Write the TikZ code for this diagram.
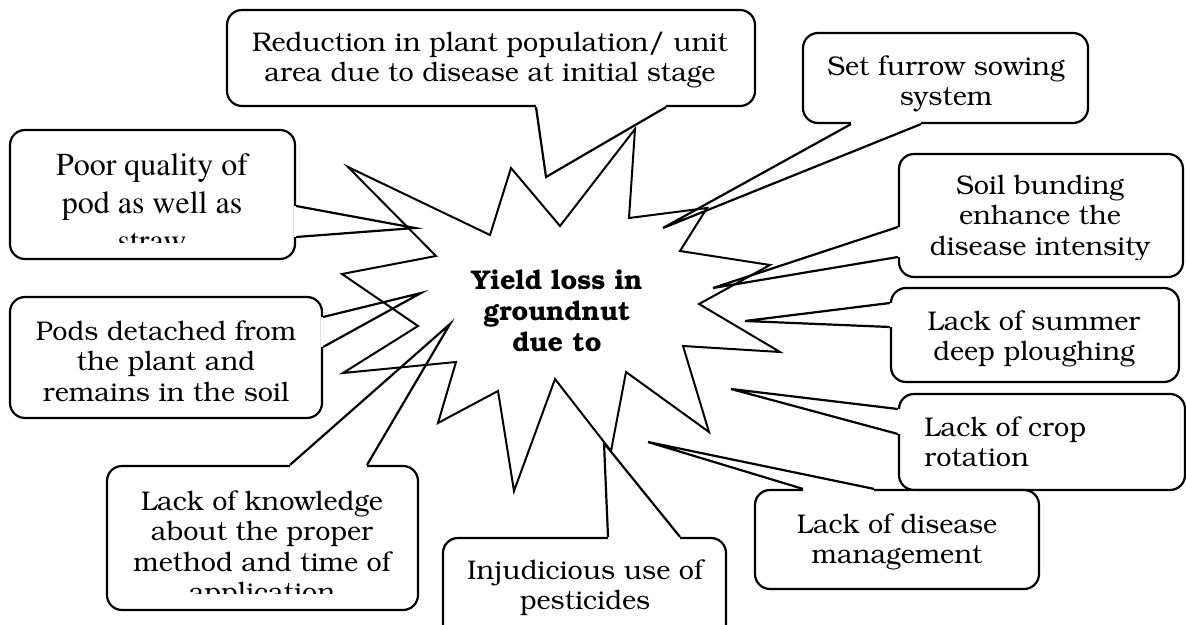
\documentclass[tikz,border=0pt]{standalone}
\usepackage[T1]{fontenc}
\usepackage{bookman}

\begin{document}
\begin{tikzpicture}
[
    x=0.5pt, y=-0.5pt,
    every node/.style={inner sep=0pt, align=center, font=\fontsize{13.5}{15.25}\selectfont},
    box/.style={draw, fill=white, line width=1.1pt, rounded corners=7.5pt},
    txt/.style={anchor=north},
    gap/.style={white, line width=2.6pt},
    tail/.style={line width=1.1pt},
]
\clip (0,0) rectangle (1186,625);
\node [box, minimum width=264pt, minimum height=48pt] (red) at (491,58) {};
\node [txt] (redText) at (490,32)
{Reduction in plant population/ unit\\area due to disease at initial stage};
\coordinate (redTip) at (546,177);
\draw [gap] (536,0 |- red.south) -- (666,0 |- red.south);
\draw [tail] (536,0 |- red.south) -- (redTip) -- (666,0 |- red.south);

\node [box, minimum width=142.5pt, minimum height=45pt] (set) at (945.5,78) {};
\node [txt] (setText) at (946,55) {Set furrow sowing\\system};
\coordinate (setTip) at (663,228);
\draw [gap] (851,0 |- set.south) -- (921,0 |- set.south);
\draw [tail] (851,0 |- set.south) -- (setTip) -- (921,0 |- set.south);

\node [box, minimum width=142pt, minimum height=61.5pt] (soil) at (1041,215.5) {};
\begin{scope}
\clip (899,154) rectangle (1183,260);
\node [txt] (soilText) at (1040,175) {Soil bunding\\enhance the\\disease intensity};
\end{scope}
\coordinate (soilTip) at (713,288);
\draw [gap] (soil.west |- 0,227) -- (soil.west |- 0,257);
\draw [tail] (soil.west |- 0,227) -- (soilTip) -- (soil.west |- 0,257);

\node [box, minimum width=144pt, minimum height=47pt] (summer) at (1035,335) {};
\node [txt] (summerText) at (1034,310) {Lack of summer\\deep ploughing};
\coordinate (summerTip) at (745,321);
\draw [gap] (summer.west |- 0,303) -- (summer.west |- 0,327);
\draw [tail] (summer.west |- 0,303) -- (summerTip) -- (summer.west |- 0,327);

\node [box, minimum width=143pt, minimum height=48pt] (crop) at (1042,442) {};
\node [txt, anchor=north west, align=left] (cropText) at (924,416) {Lack of crop\\rotation};
\coordinate (cropTip) at (731,389);
\draw [gap] (crop.west |- 0,409) -- (crop.west |- 0,434);
\draw [tail] (crop.west |- 0,409) -- (cropTip) -- (crop.west |- 0,434);

\node [box, minimum width=142pt, minimum height=49.5pt] (disease) at (897,539.5) {};
\node [txt] (diseaseText) at (897,513) {Lack of disease\\management};
\coordinate (diseaseTip) at (648,442);
\draw [gap] (803,0 |- disease.north) -- (874,0 |- disease.north);
\draw [tail] (803,0 |- disease.north) -- (diseaseTip) -- (874,0 |- disease.north);

\node [box, minimum width=141.5pt, minimum height=61pt] (inj) at (584.5,599) {};
\node [txt] (injText) at (585,559) {Injudicious use of\\pesticides};
\coordinate (injTip) at (604,443);
\draw [gap] (608,0 |- inj.north) -- (680,0 |- inj.north);
\draw [tail] (608,0 |- inj.north) -- (injTip) -- (680,0 |- inj.north);

\node [box, minimum width=155.5pt, minimum height=72pt] (know) at (262.5,538) {};
\begin{scope}
\clip (107,466) rectangle (418,593);
\node [txt] (knowText) at (262,490)
{Lack of knowledge\\about the proper\\method and time of\\application};
\end{scope}
\coordinate (knowTip) at (450,324);
\draw [gap] (290,0 |- know.north) -- (367,0 |- know.north);
\draw [tail] (290,0 |- know.north) -- (knowTip) -- (367,0 |- know.north);

\node [box, minimum width=156pt, minimum height=60.5pt] (pods) at (166,357.5) {};
\node [txt] (podsText) at (166,320) {Pods detached from\\the plant and\\remains in the soil};
\coordinate (podsTip) at (421,293);
\draw [gap] (pods.east |- 0,317) -- (pods.east |- 0,347);
\draw [tail] (pods.east |- 0,317) -- (podsTip) -- (pods.east |- 0,347);

\node [box, minimum width=142.5pt, minimum height=64.5pt] (poor) at (152.5,194.5) {};
\begin{scope}
\clip (10,130) rectangle (295,243);
\node [txt, font=\fontfamily{ptm}\fontsize{16}{19}\selectfont] (poorText) at (152,153)
{Poor quality of\\pod as well as\\straw};
\end{scope}
\coordinate (poorTip) at (415,228);
\draw [gap] (poor.east |- 0,206) -- (poor.east |- 0,237);
\draw [tail] (poor.east |- 0,206) -- (poorTip) -- (poor.east |- 0,237);

\draw [line width=1pt] (348,167) -- (490,235) -- (511,168) -- (560,226) -- (635,129)
  -- (629,218) -- (707,208) -- (680,251) -- (770,265) -- (699,304) -- (780,352)
  -- (683,346) -- (709,432) -- (626,372) -- (611,451) -- (555,379) -- (514,491)
  -- (498,391) -- (438,423) -- (456,362) -- (343,373) -- (418,326) -- (342,274)
  -- (436,256) -- cycle;
\node [anchor=north, font=\bfseries\fontsize{13.5}{15.5}\selectfont] (yield) at (557,270)
{Yield loss in\\groundnut\\due to};
\end{tikzpicture}
\end{document}
